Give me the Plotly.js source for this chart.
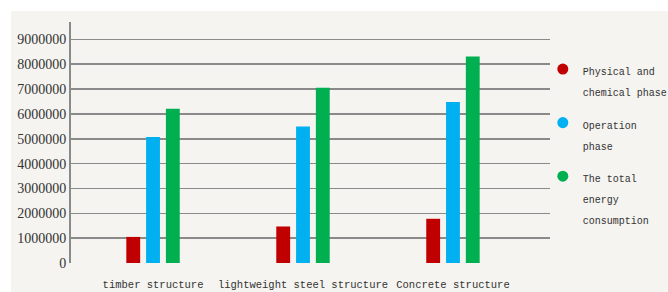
<!DOCTYPE html>
<html><head><meta charset="utf-8">
<script src="https://cdn.plot.ly/plotly-3.0.1.min.js"></script>
<style>html,body{margin:0;padding:0;background:#FFFFFF;}</style>
</head><body><div id="chart" style="width:668px;height:292px;"></div>
<script>
const categories = ["timber structure", "lightweight steel structure", "Concrete structure"];
const seriesNames = ["Physical and<br>chemical phase", "Operation<br>phase", "The total<br>energy<br>consumption"];
const physicalChemical = [1050000, 1470000, 1780000];
const operation = [5070000, 5490000, 6480000];
const totalEnergy = [6210000, 7050000, 8310000];
const yTicks = [0, 1000000, 2000000, 3000000, 4000000, 5000000, 6000000, 7000000, 8000000, 9000000];
const colors = ["#C00000", "#00B0F0", "#00B050"];

const values = [physicalChemical, operation, totalEnergy];
const traces = [];
values.forEach((v, i) => {
  traces.push({type: "bar", x: categories, y: v, marker: {color: colors[i]}, showlegend: false, hoverinfo: "y"});
});
values.forEach((v, i) => {
  const label = seriesNames[i].split("<br>").map(s => '<span style="font-size:10px">' + s + '</span>').join("<br>");
  traces.push({type: "scatter", mode: "markers", x: [null], y: [null], name: label, legendgroup: "g" + i,
    marker: {color: colors[i], size: 11, symbol: "circle"}, showlegend: true});
});

const layout = {
  width: 668, height: 292,
  margin: {l: 71, r: 118, t: 22, b: 29, autoexpand: false},
  paper_bgcolor: "#FFFFFF", plot_bgcolor: "rgba(0,0,0,0)",
  shapes: [{type: "rect", xref: "paper", yref: "paper", x0: -0.1253, x1: 1.25, y0: -0.125, y1: 1.0456,
    fillcolor: "#F5F4F0", line: {width: 0}, layer: "below"}],
  barmode: "group", bargap: 0.604, bargroupgap: 0.3,
  xaxis: {type: "category", range: [-0.547, 2.647], showgrid: false, zeroline: false, showline: false,
    ticks: "", tickangle: 0, ticklabelstandoff: 13,
    tickfont: {family: "Liberation Mono", size: 10.5, color: "#333"}},
  yaxis: {range: [0, 9700000], tickvals: yTicks, ticktext: yTicks.map(String),
    showgrid: true, gridcolor: "#8a8a8a", gridwidth: 1.5, zeroline: false,
    showline: true, linecolor: "#8a8a8a", linewidth: 2, ticks: "",
    tickfont: {family: "Liberation Serif", size: 14, color: "#333"}},
  legend: {x: 0.985, xanchor: "left", y: 0.875, yanchor: "top", valign: "top", bgcolor: "rgba(0,0,0,0)",
    font: {family: "Liberation Mono", size: 16, color: "#333"}, tracegroupgap: 9, itemwidth: 30},
  showlegend: true
};
Plotly.newPlot("chart", traces, layout, {displayModeBar: false, staticPlot: true});
</script></body></html>
